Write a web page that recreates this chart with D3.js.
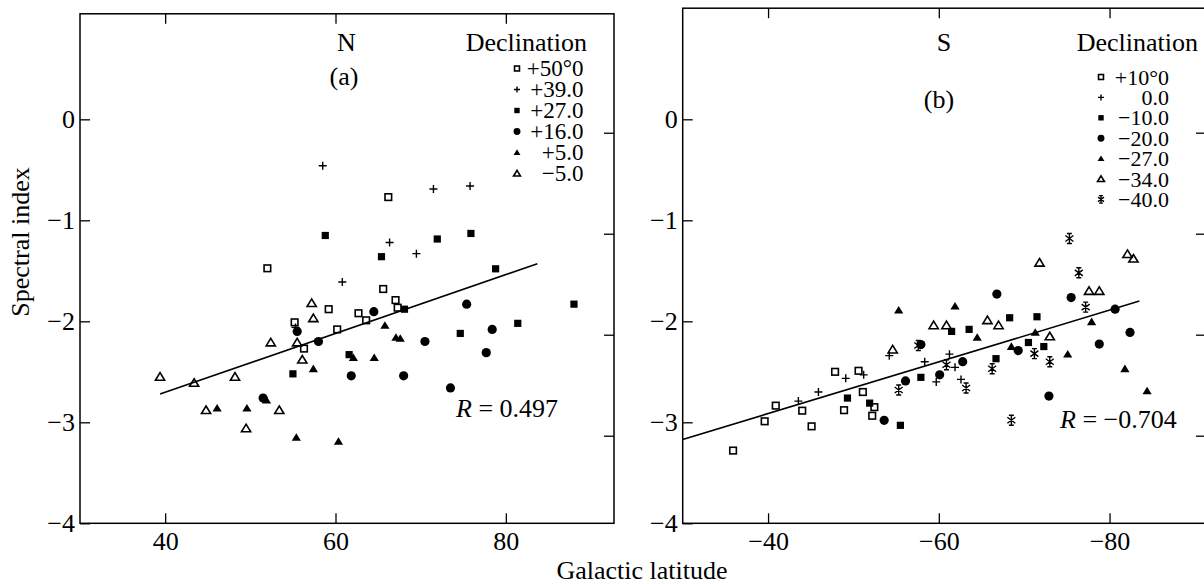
<!DOCTYPE html>
<html lang="en">
<head>
  <meta charset="UTF-8">
  <title>Spectral index vs galactic latitude</title>
  <script src="https://d3js.org/d3.v7.min.js"></script>
  <style>
    body { margin: 0; padding: 0; background: #fff; overflow: hidden; }
    text { font-family: "Liberation Serif", "Times New Roman", serif; fill: #000; }
  </style>
</head>
<body>
  <svg id="chart" width="1204" height="584"></svg>

  <script>
    // Data: [galactic latitude, spectral index], one array per declination strip
    // North (a)
    const nDec50 = [[66.2,-0.77],[52.0,-1.475],[65.6,-1.68],[59.2,-1.88],[67.05,-1.79],[67.3,-1.865],
                    [62.7,-1.92],[63.6,-1.99],[60.2,-2.08],[55.2,-2.01],[56.3,-2.27]];
    const nDec39 = [[58.5,-0.46],[71.5,-0.69],[75.8,-0.66],[66.35,-1.22],[69.5,-1.33],[60.8,-1.61],[55.3,-2.06]];
    const nDec27 = [[58.8,-1.15],[71.95,-1.185],[75.9,-1.13],[65.4,-1.36],[78.8,-1.48],[68.1,-1.88],
                    [88.0,-1.83],[81.4,-2.02],[74.65,-2.12],[61.6,-2.33],[55.0,-2.52]];
    const nDec16 = [[64.5,-1.905],[75.4,-1.83],[78.4,-2.08],[70.5,-2.2],[58.0,-2.2],[55.5,-2.10],
                    [61.85,-2.54],[68.0,-2.54],[77.7,-2.31],[73.5,-2.66],[51.5,-2.76]];
    const nDec5  = [[65.8,-2.04],[67.1,-2.16],[67.6,-2.17],[62.1,-2.36],[64.55,-2.36],[57.4,-2.47],
                    [51.9,-2.78],[46.1,-2.86],[49.6,-2.86],[55.4,-3.15],[60.35,-3.19]];
    const nDecM5 = [[57.2,-1.82],[57.4,-1.97],[52.4,-2.21],[55.5,-2.21],[56.1,-2.38],[39.4,-2.55],
                    [43.4,-2.61],[48.2,-2.55],[44.8,-2.88],[53.4,-2.88],[49.5,-3.06]];
    const nLabels = ["+50°0", "+39.0", "+27.0", "+16.0", "+5.0", "−5.0"];
    const nFit = [[39.4,-2.72],[83.7,-1.43]];
    const nR = "0.497";

    // South (b)
    const sDec10  = [[-35.9,-3.28],[-39.6,-2.99],[-40.9,-2.835],[-44.0,-2.885],[-45.1,-3.04],[-47.85,-2.5],
                     [-48.9,-2.88],[-50.6,-2.49],[-51.1,-2.70],[-52.45,-2.85],[-52.2,-2.935]];
    const sDec0   = [[-43.55,-2.79],[-45.9,-2.70],[-49.1,-2.565],[-51.2,-2.53],[-54.2,-2.34],[-58.35,-2.40],
                     [-59.7,-2.60],[-61.25,-2.325],[-61.9,-2.456],[-62.6,-2.575]];
    const sDecM10 = [[-49.3,-2.76],[-51.9,-2.81],[-55.5,-3.03],[-57.9,-2.555],[-61.5,-2.10],[-63.55,-2.08],
                     [-66.7,-2.37],[-68.3,-1.965],[-71.5,-1.955],[-70.5,-2.21],[-72.3,-2.25]];
    const sDecM20 = [[-53.6,-2.98],[-56.1,-2.59],[-57.9,-2.23],[-60.1,-2.53],[-62.8,-2.40],[-66.8,-1.73],
                     [-69.3,-2.29],[-72.9,-2.74],[-75.5,-1.765],[-78.8,-2.225],[-80.65,-1.88],[-82.4,-2.11]];
    const sDecM27 = [[-55.3,-1.89],[-61.9,-1.85],[-64.5,-2.16],[-68.5,-2.25],[-71.3,-2.11],[-75.1,-2.325],
                     [-77.9,-2.005],[-81.8,-2.47],[-84.4,-2.69]];
    const sDecM34 = [[-54.6,-2.28],[-59.4,-2.04],[-60.9,-2.04],[-65.7,-1.99],[-67.0,-2.04],[-71.8,-1.42],
                     [-73.0,-2.15],[-77.6,-1.70],[-78.8,-1.70],[-82.1,-1.335],[-82.8,-1.38]];
    const sDecM40 = [[-55.3,-2.68],[-57.6,-2.24],[-60.9,-2.43],[-63.2,-2.66],[-66.25,-2.47],[-68.5,-2.98],
                     [-71.2,-2.32],[-73.0,-2.40],[-75.3,-1.18],[-76.4,-1.52],[-77.2,-1.86]];
    const sLabels = ["+10°0", "0.0", "−10.0", "−20.0", "−27.0", "−34.0", "−40.0"];
    const sFit = [[-30,-3.17],[-83.5,-1.80]];
    const sR = "−0.704";

    const yTicks = [0, -1, -2, -3, -4];

    const svg = d3.select("#chart");

    // marker shapes
    function drawMarker(g, kind, x, y, k) {
      k = k || 1;
      if (kind === "sqOpen") {
        g.append("rect").attr("x", x - 3.3 * k).attr("y", y - 3.3 * k)
          .attr("width", 6.6 * k).attr("height", 6.6 * k)
          .attr("fill", "none").attr("stroke", "#000").attr("stroke-width", 1.6);
      } else if (kind === "sqFill") {
        g.append("rect").attr("x", x - 3.6 * k).attr("y", y - 3.6 * k)
          .attr("width", 7.2 * k).attr("height", 7.2 * k).attr("fill", "#000");
      } else if (kind === "plus") {
        const s = 4 * k;
        g.append("path").attr("d", `M${x - s},${y}H${x + s}M${x},${y - s}V${y + s}`)
          .attr("stroke", "#000").attr("stroke-width", 1.4).attr("fill", "none");
      } else if (kind === "circle") {
        g.append("circle").attr("cx", x).attr("cy", y).attr("r", 4.6 * k).attr("fill", "#000");
      } else if (kind === "triFill" || kind === "triOpen") {
        const w = 4.6 * k, h = 4.2 * k;
        const p = g.append("path").attr("d", `M${x},${y - h}L${x + w},${y + h * 0.8}L${x - w},${y + h * 0.8}Z`);
        if (kind === "triFill") p.attr("fill", "#000");
        else p.attr("fill", "none").attr("stroke", "#000").attr("stroke-width", 1.6);
      } else if (kind === "star") {
        const s = 5 * k, dx = s * 0.8, dy = s * 0.6;
        g.append("path")
          .attr("d", `M${x},${y - s}V${y + s}M${x - dx},${y - dy}L${x + dx},${y + dy}M${x - dx},${y + dy}L${x + dx},${y - dy}` +
                     `M${x - 2.5 * k},${y - s}H${x + 2.5 * k}M${x - 2.5 * k},${y + s}H${x + 2.5 * k}`)
          .attr("stroke", "#000").attr("stroke-width", 1.4).attr("fill", "none");
      }
    }

    function drawPanel(p) {
      const g = svg.append("g");
      const x = d3.scaleLinear().domain(p.xDomain).range(p.xRange);
      const y = d3.scaleLinear().domain(p.yDomain).range([523.3, p.top]);
      // right side ticks sit a little lower than the left ones in the original
      const yRight = d3.scaleLinear().domain(p.yDomain).range([523.3 + 13.4, p.top + 13.4]);

      const fmt = d3.format("d");

      const left = g.append("g").attr("transform", `translate(${p.xRange[0]},0)`)
        .call(d3.axisLeft(y).tickValues(yTicks).tickSizeInner(-10).tickSizeOuter(0).tickPadding(5).tickFormat(fmt));
      const bottom = g.append("g").attr("transform", `translate(0,523.3)`)
        .call(d3.axisBottom(x).tickValues(p.xTicks).tickSizeInner(-10).tickSizeOuter(0).tickPadding(8).tickFormat(fmt));
      const top = g.append("g").attr("transform", `translate(0,${p.top})`)
        .call(d3.axisTop(x).tickValues(p.xTicks).tickSizeInner(-10).tickSizeOuter(0).tickFormat(""));
      const right = g.append("g").attr("transform", `translate(${p.xRange[1]},0)`)
        .call(d3.axisRight(yRight).tickValues([0, -1, -2, -3]).tickSizeInner(-10).tickSizeOuter(0).tickFormat(""));

      [left, bottom, top, right].forEach(a => {
        a.select(".domain").remove();
        a.selectAll("line").attr("stroke", "#000").attr("stroke-width", 1.3);
        a.selectAll("text").attr("font-family", "Liberation Serif, Times New Roman, serif")
          .attr("font-size", 26).attr("fill", "#000");
      });

      g.append("rect")
        .attr("x", p.xRange[0]).attr("y", p.top)
        .attr("width", p.xRange[1] - p.xRange[0]).attr("height", 523.3 - p.top)
        .attr("fill", "none").attr("stroke", "#000").attr("stroke-width", 1.5);

      // regression line
      g.append("path")
        .attr("d", d3.line().x(d => x(d[0])).y(d => y(d[1]))(p.fit))
        .attr("stroke", "#000").attr("stroke-width", 1.6).attr("fill", "none");

      // points
      p.series.forEach(s => {
        s.data.forEach(d => drawMarker(g, s.kind, x(d[0]), y(d[1])));
      });

      // titles
      g.append("text").attr("x", p.letterX).attr("y", 51).attr("text-anchor", "middle")
        .attr("font-size", 26).text(p.letter);
      g.append("text").attr("x", p.tagX).attr("y", p.tagY).attr("text-anchor", "middle")
        .attr("font-size", 26).text(p.tag);
      g.append("text").attr("x", p.legendRight).attr("y", 51).attr("text-anchor", "end")
        .attr("font-size", 26).text("Declination");

      // legend
      p.series.forEach((s, i) => {
        const cy = p.legendY0 + i * p.legendStep;
        drawMarker(g, s.kind, p.legendSymX, cy, 0.75);
        g.append("text").attr("x", p.legendTextX).attr("y", cy + 7.5)
          .attr("text-anchor", "end").attr("font-size", p.legendFont).text(s.label);
      });

      // correlation coefficient
      const r = g.append("text").attr("x", p.rX).attr("y", p.rY).attr("font-size", 26);
      r.append("tspan").attr("font-style", "italic").text("R");
      r.append("tspan").text(" = " + p.r);
    }

    const nKinds = ["sqOpen", "plus", "sqFill", "circle", "triFill", "triOpen"];
    const nSets = [nDec50, nDec39, nDec27, nDec16, nDec5, nDecM5];
    drawPanel({
      xDomain: [30, 92.7], xRange: [80, 614], yDomain: [-4, 1.045], top: 13.8,
      xTicks: [40, 60, 80], fit: nFit, r: nR, rX: 456, rY: 416.5,
      letter: "N", letterX: 346.5, tag: "(a)", tagX: 344, tagY: 85,
      legendRight: 587, legendSymX: 517, legendTextX: 583.5, legendY0: 68.5, legendStep: 21, legendFont: 23,
      series: nSets.map((d, i) => ({ data: d, kind: nKinds[i], label: nLabels[i] }))
    });

    const sKinds = ["sqOpen", "plus", "sqFill", "circle", "triFill", "triOpen", "star"];
    const sSets = [sDec10, sDec0, sDecM10, sDecM20, sDecM27, sDecM34, sDecM40];
    drawPanel({
      xDomain: [-30, -91.3], xRange: [682.7, 1206], yDomain: [-4, 1.1], top: 8.2,
      xTicks: [-40, -60, -80], fit: sFit, r: sR, rX: 1060, rY: 428.3,
      letter: "S", letterX: 944, tag: "(b)", tagX: 939, tagY: 108,
      legendRight: 1198, legendSymX: 1101, legendTextX: 1169, legendY0: 77, legendStep: 20.4, legendFont: 22,
      series: sSets.map((d, i) => ({ data: d, kind: sKinds[i], label: sLabels[i] }))
    });

    // shared axis titles
    svg.append("text")
      .attr("transform", "translate(29,242) rotate(-90)")
      .attr("text-anchor", "middle").attr("font-size", 26)
      .text("Spectral index");
    svg.append("text")
      .attr("x", 642).attr("y", 579).attr("text-anchor", "middle").attr("font-size", 26)
      .text("Galactic latitude");
  </script>
</body>
</html>
